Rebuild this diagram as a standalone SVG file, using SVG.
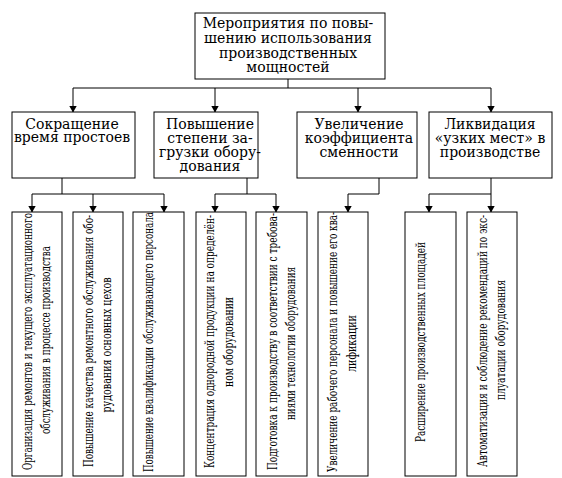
<svg xmlns="http://www.w3.org/2000/svg" width="562" height="478" viewBox="0 0 562 478">
<defs>
<marker id="arr" markerWidth="7" markerHeight="8" refX="6.5" refY="4" orient="auto" markerUnits="userSpaceOnUse">
<path d="M0,0 L7,4 L0,8 Z" fill="#000"/>
</marker>
<style>
rect{fill:#fff;stroke:#000;stroke-width:1}
.c line,.c path{stroke:#000;stroke-width:1;fill:none}
.a{marker-end:url(#arr)}
.h{font-family:"DejaVu Serif",serif;font-size:14px;text-anchor:middle;fill:#000}
.v{font-family:"DejaVu Serif",serif;font-size:12px;text-anchor:middle;fill:#000}
</style>
</defs>
<rect x="0" y="0" width="562" height="478" style="stroke:none"/>
<g class="c" id="connectors">
<line x1="288" y1="79" x2="288" y2="88"/>
<line x1="73" y1="88" x2="491" y2="88"/>
<line class="a" x1="73" y1="88" x2="73" y2="112"/>
<line class="a" x1="215" y1="88" x2="215" y2="112"/>
<line class="a" x1="358" y1="88" x2="358" y2="112"/>
<line class="a" x1="491" y1="88" x2="491" y2="112"/>
<line x1="62" y1="178" x2="62" y2="194"/>
<line x1="32" y1="194" x2="164" y2="194"/>
<line class="a" x1="32" y1="194" x2="32" y2="212"/>
<line class="a" x1="93" y1="194" x2="93" y2="212"/>
<line class="a" x1="164" y1="194" x2="164" y2="212"/>
<line x1="247" y1="178" x2="247" y2="194"/>
<line x1="215" y1="194" x2="276" y2="194"/>
<line class="a" x1="215" y1="194" x2="215" y2="212"/>
<line class="a" x1="276" y1="194" x2="276" y2="212"/>
<path d="M379,178 V194 H348"/>
<line class="a" x1="348" y1="194" x2="348" y2="212"/>
<line class="a" x1="491" y1="178" x2="491" y2="212"/>
<line x1="429" y1="194" x2="491" y2="194"/>
<line class="a" x1="429" y1="194" x2="429" y2="212"/>
</g>
<g id="top">
<rect x="195" y="13" width="190" height="66"/>
<text class="h" x="288" y="28">Мероприятия по повы-</text>
<text class="h" x="288" y="43">шению использования</text>
<text class="h" x="288" y="57.5">производственных</text>
<text class="h" x="288" y="72">мощностей</text>
</g>
<g id="n1">
<rect x="12" y="112" width="123" height="66"/>
<text class="h" x="72" y="128.5">Сокращение</text>
<text class="h" x="72" y="142">время простоев</text>
</g>
<g id="n2">
<rect x="154" y="112" width="104" height="66"/>
<text class="h" x="210" y="128.5">Повышение</text>
<text class="h" x="210" y="142.5">степени за-</text>
<text class="h" x="210" y="156.7">грузки обору-</text>
<text class="h" x="210" y="171">дования</text>
</g>
<g id="n3">
<rect x="297" y="112" width="120" height="66"/>
<text class="h" x="359" y="128.5">Увеличение</text>
<text class="h" x="359" y="142.5">коэффициента</text>
<text class="h" x="359" y="156.7">сменности</text>
</g>
<g id="n4">
<rect x="429" y="112" width="123" height="66"/>
<text class="h" x="490" y="128.5">Ликвидация</text>
<text class="h" x="490" y="142.5">«узких мест» в</text>
<text class="h" x="490" y="156.7">производстве</text>
</g>
<g id="a">
<rect x="12" y="212" width="50" height="264"/>
<text class="v" transform="translate(32,341.5) rotate(-90)" textLength="257" lengthAdjust="spacingAndGlyphs">Организация ремонтов и текущего эксплуатационного</text>
<text class="v" transform="translate(50,340) rotate(-90)" textLength="188" lengthAdjust="spacingAndGlyphs">обслуживания в процессе производства</text>
</g>
<g id="b">
<rect x="73" y="212" width="50" height="264"/>
<text class="v" transform="translate(93,341) rotate(-90)" textLength="252" lengthAdjust="spacingAndGlyphs">Повышение качества ремонтного обслуживания обо-</text>
<text class="v" transform="translate(111,345) rotate(-90)" textLength="135" lengthAdjust="spacingAndGlyphs">рудования основных цехов</text>
</g>
<g id="c">
<rect x="133" y="212" width="51" height="264"/>
<text class="v" transform="translate(153,342) rotate(-90)" textLength="260" lengthAdjust="spacingAndGlyphs">Повышение квалификации обслуживающего персонала</text>
</g>
<g id="d">
<rect x="196" y="212" width="50" height="264"/>
<text class="v" transform="translate(214,341.5) rotate(-90)" textLength="253" lengthAdjust="spacingAndGlyphs">Концентрация однородной продукции на определён-</text>
<text class="v" transform="translate(233,342) rotate(-90)" textLength="90" lengthAdjust="spacingAndGlyphs">ном оборудовании</text>
</g>
<g id="e">
<rect x="256" y="212" width="51" height="264"/>
<text class="v" transform="translate(277,341.5) rotate(-90)" textLength="257" lengthAdjust="spacingAndGlyphs">Подготовка к производству в соответствии с требова-</text>
<text class="v" transform="translate(295,343.5) rotate(-90)" textLength="153" lengthAdjust="spacingAndGlyphs">ниями технологии оборудования</text>
</g>
<g id="f">
<rect x="318" y="212" width="50" height="264"/>
<text class="v" transform="translate(337,342) rotate(-90)" textLength="260" lengthAdjust="spacingAndGlyphs">Увеличение рабочего персонала и повышение его ква-</text>
<text class="v" transform="translate(356,343.5) rotate(-90)" textLength="57" lengthAdjust="spacingAndGlyphs">лификации</text>
</g>
<g id="g">
<rect x="405" y="212" width="51" height="264"/>
<text class="v" transform="translate(425,342) rotate(-90)" textLength="200" lengthAdjust="spacingAndGlyphs">Расширение производственных площадей</text>
</g>
<g id="h">
<rect x="467" y="212" width="50" height="264"/>
<text class="v" transform="translate(487,341) rotate(-90)" textLength="252" lengthAdjust="spacingAndGlyphs">Автоматизация и соблюдение рекомендаций по экс-</text>
<text class="v" transform="translate(505,340) rotate(-90)" textLength="120" lengthAdjust="spacingAndGlyphs">плуатации оборудования</text>
</g>
</svg>
